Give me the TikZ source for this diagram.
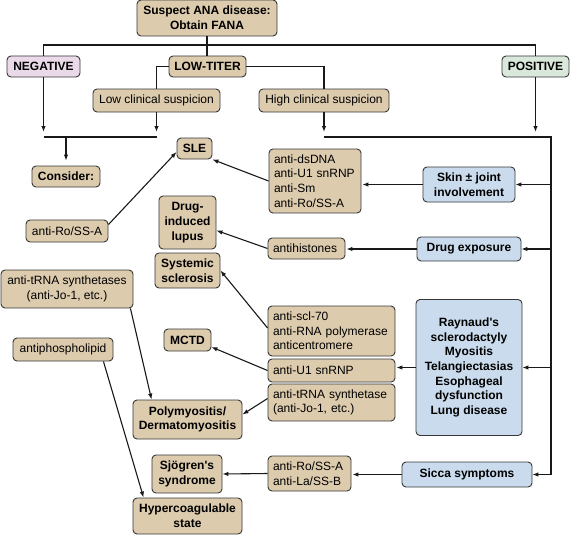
\documentclass[tikz,border=0pt]{standalone}
\usepackage{fontspec}
\setmainfont{Liberation Sans}
\usetikzlibrary{arrows.meta}
\definecolor{tanfill}{RGB}{221,203,174}
\definecolor{skyfill}{RGB}{201,219,236}
\definecolor{negfill}{RGB}{233,217,233}
\definecolor{posfill}{RGB}{217,232,219}
\definecolor{edgecol}{RGB}{55,55,55}

\begin{document}
\begin{tikzpicture}[x=1pt,y=-1pt,>={Latex[length=6pt,width=4.5pt]},
  basebox/.style={draw=edgecol,line width=0.9pt,rounded corners=4pt,inner xsep=5pt,inner ysep=2pt,align=center,font=\fontsize{12}{14.7}\selectfont},
  tanbox/.style={basebox,fill=tanfill},
  dxbox/.style={tanbox,font=\fontsize{12}{14.7}\selectfont\bfseries},
  symbox/.style={basebox,fill=skyfill,font=\fontsize{12}{14.7}\selectfont\bfseries},
  abbox/.style={tanbox,align=left},
  link/.style={line width=1.1pt,draw=black!90}]
\useasboundingbox (0,0) rectangle (570,535);

% top of the tree
\node[dxbox,minimum width=140pt,minimum height=36pt] (fana) at (207,18) {Suspect ANA disease:\\Obtain FANA};
\node[dxbox,fill=negfill,minimum width=73pt,minimum height=21pt] (neg) at (43.5,66.5) {NEGATIVE};
\node[dxbox,minimum width=77pt,minimum height=21pt] (titer) at (207.5,66.5) {LOW-TITER};
\node[dxbox,fill=posfill,minimum width=67pt,minimum height=21pt] (pos) at (535.5,66.5) {POSITIVE};
\node[tanbox,minimum width=127pt,minimum height=23pt] (lowsus) at (156.5,100.5) {Low clinical suspicion};
\node[tanbox,minimum width=130pt,minimum height=23pt] (highsus) at (324,100.5) {High clinical suspicion};

% diagnoses
\node[dxbox,minimum width=68pt,minimum height=21pt] (consider) at (66,176.5) {Consider:};
\node[dxbox,minimum width=35pt,minimum height=21pt] (sle) at (194.5,148.5) {SLE};
\node[dxbox,minimum width=57pt,minimum height=53pt] (dil) at (187.5,222.5) {Drug-\\induced\\lupus};
\node[dxbox,minimum width=65pt,minimum height=35pt] (ssc) at (187.5,270.5) {Systemic\\sclerosis};
\node[dxbox,minimum width=47pt,minimum height=22pt] (mctd) at (187.5,340) {MCTD};
\node[dxbox,minimum width=109pt,minimum height=39pt] (pm) at (187.5,419.5) {Polymyositis/\\Dermatomyositis};
\node[dxbox,minimum width=70pt,minimum height=38pt] (sjo) at (187,474) {Sjögren\textquotesingle s\\syndrome};
\node[dxbox,minimum width=109pt,minimum height=36pt] (hyper) at (187.5,516) {Hypercoagulable\\state};

% antibodies
\node[tanbox,minimum width=82pt,minimum height=22pt] (roL) at (67,231) {anti-Ro/SS-A};
\node[tanbox,minimum width=132pt,minimum height=38pt] (jo) at (67,289) {anti-tRNA synthetases\\(anti-Jo-1, etc.)};
\node[tanbox,minimum width=100pt,minimum height=23pt] (apl) at (63,349.5) {antiphospholipid};
\node[abbox,text width=82pt,minimum height=64pt] (dsdna) at (315,181) {anti-dsDNA\\anti-U1 snRNP\\anti-Sm\\anti-Ro/SS-A};
\node[abbox,text width=67pt,minimum height=21pt] (hist) at (306.5,248.5) {antihistones};
\node[abbox,text width=117pt,minimum height=50pt] (scl) at (331.5,331) {anti-scl-70\\anti-RNA polymerase\\anticentromere};
\node[abbox,text width=117pt,minimum height=23pt] (u1) at (331.5,370.5) {anti-U1 snRNP};
\node[abbox,text width=117pt,minimum height=37pt] (trna) at (331.5,402.5) {anti-tRNA synthetase\\(anti-Jo-1, etc.)};
\node[abbox,text width=73pt,minimum height=35pt] (rola) at (309.5,473.5) {anti-Ro/SS-A\\anti-La/SS-B};

% clinical findings
\node[symbox,minimum width=92pt,minimum height=35pt] (skin) at (469,184.5) {Skin ± joint\\involvement};
\node[symbox,minimum width=104pt,minimum height=24pt] (drug) at (469,249) {Drug exposure};
\node[symbox,minimum width=106pt,minimum height=136pt] (rayn) at (469,367.5) {Raynaud\textquotesingle s\\sclerodactyly\\Myositis\\Telangiectasias\\Esophageal\\dysfunction\\Lung disease};
\node[symbox,minimum width=130pt,minimum height=25pt] (sicca) at (467,474.5) {Sicca symptoms};

\coordinate (split) at (0,45);
\coordinate (joinL) at (0,137);
\coordinate (rail) at (551,137);

% tree lines
\draw[link] (fana.south) -- (fana.south |- titer.north);
\draw[link] (neg.north) -- (neg.north |- split) -- (pos.north |- split) -- (pos.north);
\draw[link] (titer.west) -| (lowsus.north);
\draw[link] (titer.east) -| (highsus.north);
\draw[link,->,shorten >=5pt] (neg.south) -- (neg.south |- joinL);
\draw[link,->,shorten >=5pt] (lowsus.south) -- (lowsus.south |- joinL);
\draw[link] (neg.south |- joinL) -- (lowsus.south |- joinL);
\draw[link,->,shorten >=5pt] (consider.north |- joinL) -- (consider.north);
\draw[link,->,shorten >=5pt] (highsus.south) -- (highsus.south |- rail);
\draw[link,->,shorten >=5pt] (pos.south) -- (pos.south |- rail);
\draw[link] (highsus.south |- rail) -- (rail) -- (rail |- sicca.east);

% rail to findings
\draw[link,->] (rail |- skin.east) -- (skin.east);
\draw[link,->] (rail |- drug.east) -- (drug.east);
\draw[link,->] (rail |- rayn.east) -- (rayn.east);
\draw[link,->] (rail |- sicca.east) -- (sicca.east);

% findings to antibodies
\draw[link,->,shorten >=1pt] (skin.west) -- (skin.west -| dsdna.east);
\draw[link,->,shorten >=1pt] (drug.west) -- (drug.west -| hist.east);
\draw[link,->,shorten >=1pt] (rayn.west) -- (rayn.west -| u1.east);
\draw[link,->,shorten >=1pt] (sicca.west) -- (sicca.west -| rola.east);

% antibodies to diagnoses
\draw[link,->] (dsdna.west) -- (sle.south east);
\draw[link,->] ([yshift=-5pt]roL.north east) -- ([yshift=-3.5pt]sle.west);
\draw[link,->] (hist.west) -- ([yshift=-8pt]dil.east);
\draw[link,->] ([yshift=3pt]scl.west) -- (ssc.east);
\draw[link,->] (u1.west) -- ([yshift=-7pt]mctd.east);
\draw[link,->] ([yshift=4pt]trna.west) -- ([yshift=5pt]pm.east);
\draw[link,->] ([xshift=-3pt]jo.south east) -- ([xshift=19pt]pm.north west);
\draw[link,->] ([xshift=-10pt]apl.south east) -- ([xshift=11pt]hyper.north west);
\draw[link,->] (rola.west) -- (sjo.east);
\end{tikzpicture}
\end{document}
